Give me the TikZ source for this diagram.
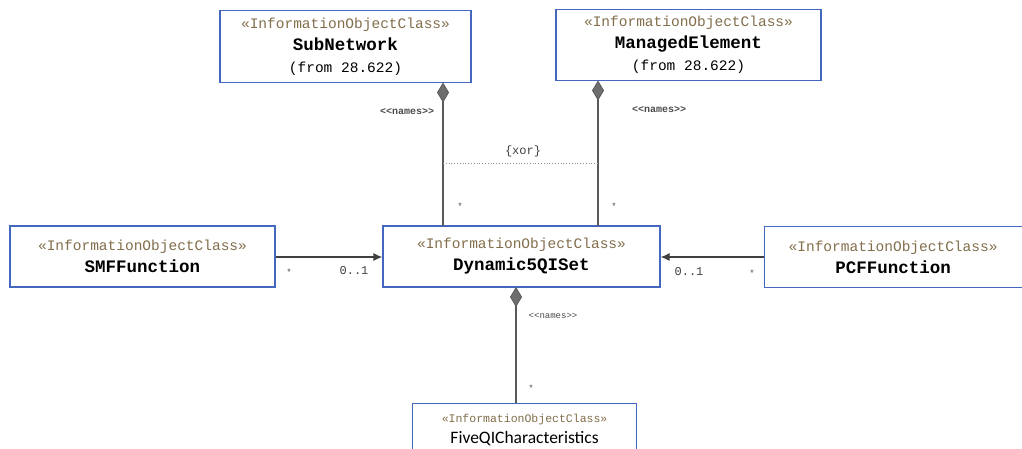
\documentclass[tikz,border=0pt]{standalone}
\usepackage{fontspec}
\setmonofont{Liberation Mono}
\newfontfamily\carl{Carlito}
\usetikzlibrary{arrows.meta,shapes.geometric}
\definecolor{boxblue}{RGB}{68,104,190}
\definecolor{stereo}{RGB}{130,110,75}
\definecolor{linegray}{RGB}{90,90,90}
\definecolor{diafill}{RGB}{110,110,110}
\tikzset{
  cls/.style={draw=boxblue, line width=1.2pt, fill=white, inner sep=0pt, align=center, font=\ttfamily\fontsize{14.5}{22}\selectfont},
  conn/.style={draw=linegray, line width=1.3pt},
  compo/.style={conn, {Diamond[fill=diafill,length=20pt,width=12pt,line width=0.8pt]}-},
  assoc/.style={draw=black!75, line width=1.2pt, -{Latex[length=9pt,width=8pt]}},
  lbl/.style={font=\ttfamily\fontsize{12}{14}\selectfont, text=black!75, inner sep=0pt},
  small/.style={font=\ttfamily\fontsize{9}{11}\selectfont, text=black!70, inner sep=0pt},
}
\newcommand{\st}[1]{{\color{stereo}«#1»}}
\newcommand{\nm}[1]{{\fontsize{17.5}{22}\selectfont\bfseries #1}}
\begin{document}
\begin{tikzpicture}[x=1pt,y=-1pt]
\useasboundingbox[fill=white] (0,0) rectangle (1022,448);
\node[cls, minimum width=251pt, minimum height=72pt] (sub) at (345.5,46.5) {\st{InformationObjectClass}\\\nm{SubNetwork}\\(from 28.622)};
\node[cls, minimum width=265pt, minimum height=71pt] (me) at (688.5,45) {\st{InformationObjectClass}\\\nm{ManagedElement}\\(from 28.622)};
\node[cls, minimum width=277pt, minimum height=61pt] (dyn) at (521.5,256.5) {\st{InformationObjectClass}\\\nm{Dynamic5QISet}};
\node[cls, minimum width=265pt, minimum height=61pt] (smf) at (142.5,256.5) {\st{InformationObjectClass}\\\nm{SMFFunction}};
\node[cls, minimum width=266pt, minimum height=61pt, anchor=north west] (pcf) at (764,226) {\hspace*{-9pt}\st{InformationObjectClass}\\\hspace*{-9pt}\nm{PCFFunction}};
\node[cls, minimum width=224pt, minimum height=60pt, anchor=north west, text depth=0pt] (five) at (412,403) {\raisebox{27pt}{\begin{tabular}{@{}c@{}}{\color{stereo}\fontsize{11.5}{14}\selectfont «InformationObjectClass»}\\[-1pt]{\carl\fontsize{17.5}{20}\selectfont FiveQICharacteristics}\end{tabular}}};
% coordinates for composition ends
\coordinate (subd) at (443,82.5);
\coordinate (subt) at (443,226);
\coordinate (med) at (598,80.5);
\coordinate (met) at (598,226);
\coordinate (dynd) at (516,287);
\coordinate (fivet) at (516,403);
\draw[compo] (subd) -- (subt);
\draw[compo] (med) -- (met);
\draw[compo] (dynd) -- (fivet);
% xor constraint
\coordinate (x1) at (443,163);
\coordinate (x2) at (598,163);
\draw[black!45, dotted, line width=0.8pt] (x1) -- (x2);
\node[lbl] (xor) at (523,151) {\{xor\}};
\node[small, font=\ttfamily\bfseries\fontsize{10}{12}\selectfont] (n1) at (407,112) {<<names>>};
\node[small, font=\ttfamily\bfseries\fontsize{10}{12}\selectfont] (n2) at (659,110) {<<names>>};
\node[small, font=\ttfamily\fontsize{9}{11}\selectfont] (n3) at (553,316) {<<names>>};
\node[small] (s1) at (460,206) {*};
\node[small] (s2) at (614,206) {*};
\node[small] (s3) at (531,388) {*};
% associations
\draw[assoc] (smf.east |- 0,257) -- (dyn.west |- 0,257);
\draw[assoc] (pcf.west |- 0,257) -- (dyn.east |- 0,257);
\node[small] (s4) at (289,272) {*};
\node[lbl] (m1) at (354,271) {0..1};
\node[lbl] (m2) at (689,272) {0..1};
\node[small] (s5) at (752,273) {*};
\end{tikzpicture}
\end{document}
